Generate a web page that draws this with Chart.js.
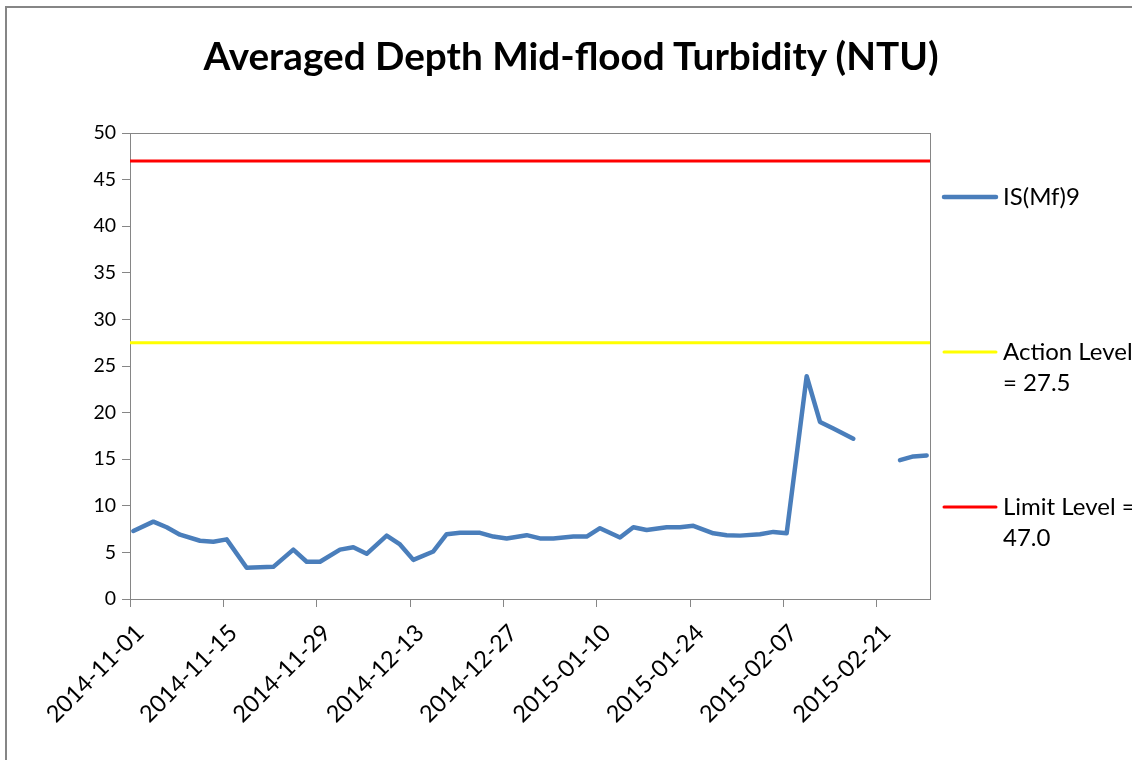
<!DOCTYPE html>
<html>
<head>
<meta charset="utf-8">
<title>Averaged Depth Mid-flood Turbidity (NTU)</title>
<script src="https://cdn.jsdelivr.net/npm/chart.js@4.4.1/dist/chart.umd.min.js"></script>
<style>
    html, body { margin: 0; padding: 0; background: #fff; }
    #wrap { position: relative; width: 1132px; height: 760px; overflow: hidden; }
    #frame { position: absolute; left: 5px; top: 6px; width: 1200px; height: 800px;
             border-left: 2px solid #868686; border-top: 2px solid #868686; }
    #title { position: absolute; left: 0; top: 32px; width: 1142px; text-align: center;
             font: bold 38.7px Lato, Carlito, Calibri, sans-serif; line-height: 46px; color: #000; }
    canvas { position: absolute; left: 0; top: 0; }
</style>
</head>
<body>
<div id="wrap">
    <div id="frame"></div>
    <canvas id="turbidity-chart" width="1132" height="760"></canvas>
    <div id="title">Averaged Depth Mid-flood Turbidity (NTU)</div>
</div>
<script>
// Monitoring days (Tue / Thu / Sat)
const sampleDates = [
    '2014-11-01', '2014-11-04', '2014-11-06', '2014-11-08', '2014-11-11', '2014-11-13', '2014-11-15',
    '2014-11-18', '2014-11-20', '2014-11-22', '2014-11-25', '2014-11-27', '2014-11-29',
    '2014-12-02', '2014-12-04', '2014-12-06', '2014-12-09', '2014-12-11', '2014-12-13',
    '2014-12-16', '2014-12-18', '2014-12-20', '2014-12-23', '2014-12-25', '2014-12-27', '2014-12-30',
    '2015-01-01', '2015-01-03', '2015-01-06', '2015-01-08', '2015-01-10', '2015-01-13', '2015-01-15',
    '2015-01-17', '2015-01-20', '2015-01-22', '2015-01-24', '2015-01-27', '2015-01-29', '2015-01-31',
    '2015-02-03', '2015-02-05', '2015-02-07', '2015-02-10', '2015-02-12', '2015-02-14',
    '2015-02-17', '2015-02-19', '2015-02-21', '2015-02-24', '2015-02-26', '2015-02-28'
];

// IS(Mf)9 depth-averaged turbidity, NTU (null = no sample)
const turbidityIS9 = [
    7.3, 8.3, 7.7, 6.9, 6.25, 6.15, 6.4,
    3.35, 3.4, 3.45, 5.3, 4.0, 4.0,
    5.3, 5.55, 4.85, 6.8, 5.85, 4.2,
    5.1, 6.95, 7.1, 7.1, 6.7, 6.5, 6.85,
    6.5, 6.5, 6.7, 6.7, 7.6, 6.6, 7.7,
    7.4, 7.7, 7.7, 7.85, 7.05, 6.85, 6.8,
    6.95, 7.2, 7.05, 23.9, 19.0, 18.3,
    17.2, null, null, 14.9, 15.3, 15.4
];

const actionLevel = 27.5;
const limitLevel = 47.0;

const axisStart = '2014-11-01';
const axisEnd = '2015-03-01';
const dateTickStep = 14;            // days between date labels
const yMin = 0, yMax = 50, yStep = 5;

const DAY = 86400000;
const dayOf = s => (Date.parse(s) - Date.parse(axisStart)) / DAY;
const dateLabel = d => new Date(Date.parse(axisStart) + d * DAY).toISOString().slice(0, 10);

// each daily value sits in the middle of its day on the date axis
const seriesPoints = sampleDates.map((d, i) => ({ x: dayOf(d) + 0.5, y: turbidityIS9[i] }));
const levelLine = v => [{ x: 0, y: v }, { x: dayOf(axisEnd), y: v }];

const FONT = 'Lato, Carlito, Calibri, sans-serif';

// legend on the right, one entry per dataset, text split into lines
const sideLegend = {
    id: 'sideLegend',
    afterDraw(chart) {
        const ctx = chart.ctx;
        const x0 = chart.chartArea.right + 14;
        ctx.save();
        ctx.font = '24px ' + FONT;
        ctx.fillStyle = '#000';
        ctx.textBaseline = 'middle';
        ctx.lineCap = 'round';
        chart.data.datasets.forEach((ds, i) => {
            const y = 197 + i * 155;
            ctx.strokeStyle = ds.borderColor;
            ctx.lineWidth = ds.borderWidth;
            ctx.beginPath();
            ctx.moveTo(x0, y);
            ctx.lineTo(x0 + 52, y);
            ctx.stroke();
            (ds.legendLines || [ds.label]).forEach((line, j) => {
                ctx.fillText(line, x0 + 59, y + j * 31);
            });
        });
        ctx.restore();
    }
};

// grey box round the plot area
const plotFrame = {
    id: 'plotFrame',
    beforeDatasetsDraw(chart) {
        const { left, top, right, bottom } = chart.chartArea;
        const ctx = chart.ctx;
        ctx.save();
        ctx.strokeStyle = '#868686';
        ctx.lineWidth = 1;
        ctx.strokeRect(Math.round(left) + 0.5, Math.round(top) + 0.5,
            Math.round(right - left), Math.round(bottom - top));
        ctx.restore();
    }
};

const ctx = document.getElementById('turbidity-chart').getContext('2d');
new Chart(ctx, {
    type: 'line',
    data: {
        datasets: [
            {
                label: 'IS(Mf)9',
                data: seriesPoints,
                borderColor: '#4a7ebb',
                borderWidth: 4.5,
                borderCapStyle: 'round',
                borderJoinStyle: 'round',
                pointRadius: 0,
                tension: 0,
                spanGaps: false
            },
            {
                label: 'Action Level = ' + actionLevel.toFixed(1),
                legendLines: ['Action Level', '= ' + actionLevel.toFixed(1)],
                data: levelLine(actionLevel),
                borderColor: '#ffff00',
                borderWidth: 3,
                pointRadius: 0
            },
            {
                label: 'Limit Level = ' + limitLevel.toFixed(1),
                legendLines: ['Limit Level =', limitLevel.toFixed(1)],
                data: levelLine(limitLevel),
                borderColor: '#ff0000',
                borderWidth: 3,
                pointRadius: 0
            }
        ]
    },
    options: {
        responsive: false,
        animation: false,
        events: [],
        layout: { padding: { left: 0, right: 202, top: 133, bottom: 0 } },
        plugins: {
            legend: { display: false },
            tooltip: { enabled: false },
            title: { display: false }
        },
        scales: {
            x: {
                type: 'linear',
                min: 0,
                max: dayOf(axisEnd),
                afterFit: s => { s.height = 161; s.paddingLeft = 0; s.paddingRight = 0; },
                border: { color: '#868686', width: 1 },
                grid: { drawOnChartArea: false, drawTicks: true, tickLength: 8, color: '#868686' },
                ticks: {
                    stepSize: dateTickStep,
                    includeBounds: false,
                    autoSkip: false,
                    maxRotation: 45,
                    minRotation: 45,
                    color: '#000',
                    padding: 12,
                    labelOffset: 10,
                    font: { family: FONT, size: 23.5 },
                    callback: v => dateLabel(v)
                }
            },
            y: {
                min: yMin,
                max: yMax,
                afterFit: s => { s.width = 130; s.paddingTop = 0; s.paddingBottom = 0; },
                border: { color: '#868686', width: 1 },
                grid: { drawOnChartArea: false, drawTicks: true, tickLength: 8, color: '#868686' },
                ticks: {
                    stepSize: yStep,
                    color: '#000',
                    padding: 6,
                    font: { family: FONT, size: 19.5 }
                }
            }
        }
    },
    plugins: [plotFrame, sideLegend]
});
</script>
</body>
</html>
